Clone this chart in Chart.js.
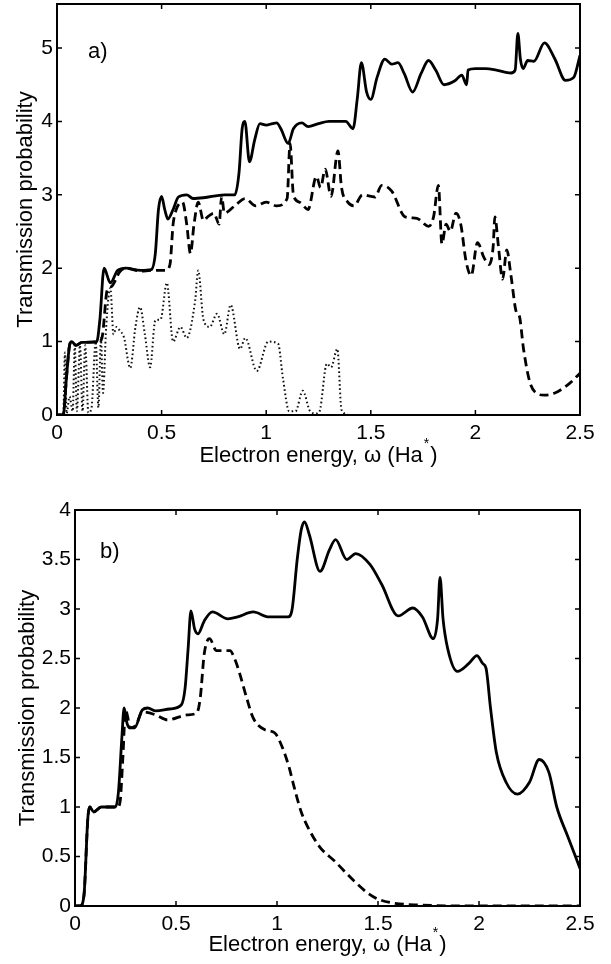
<!DOCTYPE html>
<html>
<head>
<meta charset="utf-8">
<script src="https://cdn.jsdelivr.net/npm/chart.js@4/dist/chart.umd.min.js"></script>
<style>
  html, body { margin: 0; padding: 0; background: #fff; }
  #wrap { position: relative; width: 611px; height: 964px; }
  canvas { position: absolute; left: 0; }
  #chartA { top: 0; }
  #chartB { top: 482px; }
</style>
</head>
<body>
<div id="wrap">
  <canvas id="chartA" width="611" height="482"></canvas>
  <canvas id="chartB" width="611" height="482"></canvas>
</div>
<script>
const FONT = "'Liberation Sans', Arial, sans-serif";

// panel a) — energy (Ha*) and transmission
const aSolidX = [0, 0.03, 0.045, 0.06, 0.07, 0.09, 0.12, 0.19, 0.205, 0.225, 0.255, 0.29, 0.33, 0.4, 0.45, 0.47, 0.485, 0.5, 0.515, 0.53, 0.555, 0.58, 0.62, 0.65, 0.7, 0.8, 0.85, 0.87, 0.885, 0.898, 0.92, 0.945, 0.97, 1.0, 1.03, 1.05, 1.07, 1.105, 1.13, 1.17, 1.2, 1.25, 1.3, 1.38, 1.415, 1.435, 1.455, 1.48, 1.5, 1.53, 1.567, 1.6, 1.63, 1.66, 1.7, 1.74, 1.776, 1.81, 1.85, 1.9, 1.935, 1.958, 1.965, 2.0, 2.05, 2.1, 2.17, 2.19, 2.203, 2.215, 2.228, 2.25, 2.28, 2.33, 2.38, 2.43, 2.47, 2.5];
const aSolidY = [0, 0, 0.5, 0.95, 1.0, 0.95, 0.99, 1.0, 1.3, 2.0, 1.8, 1.97, 2.0, 1.97, 1.98, 2.2, 2.8, 2.98, 2.8, 2.67, 2.8, 2.97, 3.0, 2.95, 2.96, 3.0, 3.0, 3.3, 3.9, 4.0, 3.45, 3.75, 3.97, 3.95, 3.97, 3.98, 3.9, 3.7, 3.9, 3.98, 3.93, 3.97, 4.0, 4.0, 3.9, 4.3, 4.8, 4.4, 4.3, 4.6, 4.85, 4.78, 4.8, 4.65, 4.4, 4.65, 4.83, 4.7, 4.5, 4.55, 4.63, 4.5, 4.7, 4.72, 4.72, 4.7, 4.66, 4.7, 5.2, 4.85, 4.72, 4.83, 4.82, 5.07, 4.85, 4.56, 4.6, 4.9];

const aDashX = [0, 0.03, 0.045, 0.06, 0.07, 0.09, 0.12, 0.2, 0.215, 0.24, 0.26, 0.3, 0.33, 0.4, 0.45, 0.52, 0.54, 0.555, 0.57, 0.6, 0.62, 0.638, 0.655, 0.675, 0.7, 0.72, 0.75, 0.775, 0.787, 0.8, 0.85, 0.9, 0.95, 1.0, 1.05, 1.1, 1.114, 1.13, 1.16, 1.2, 1.24, 1.26, 1.282, 1.31, 1.343, 1.36, 1.39, 1.42, 1.46, 1.52, 1.552, 1.6, 1.664, 1.72, 1.776, 1.8, 1.823, 1.84, 1.86, 1.88, 1.907, 1.93, 1.955, 1.98, 2.01, 2.04, 2.065, 2.085, 2.093, 2.11, 2.13, 2.15, 2.17, 2.196, 2.21, 2.23, 2.26, 2.29, 2.33, 2.38, 2.45, 2.5];
const aDashY = [0, 0, 0.5, 0.95, 1.0, 0.95, 0.99, 1.0, 1.05, 1.7, 1.75, 1.95, 2.0, 1.96, 1.97, 1.97, 2.05, 2.6, 2.8, 2.9, 2.6, 2.2, 2.6, 2.9, 2.65, 2.7, 2.75, 2.6, 2.98, 2.75, 2.85, 2.95, 2.85, 2.9, 2.85, 2.95, 3.7, 3.0, 2.9, 2.8, 3.25, 3.1, 3.35, 2.98, 3.6, 3.1, 2.9, 2.85, 3.0, 2.97, 3.13, 3.05, 2.7, 2.68, 2.57, 2.7, 3.13, 2.33, 2.6, 2.5, 2.75, 2.6, 2.1, 1.9, 2.35, 2.15, 2.05, 2.3, 2.7, 2.3, 1.85, 2.25, 1.9, 1.4, 1.35, 0.9, 0.45, 0.3, 0.27, 0.3, 0.43, 0.57];

const aDotX = [0, 0.03, 0.038, 0.046, 0.06, 0.075, 0.085, 0.095, 0.11, 0.122, 0.135, 0.15, 0.165, 0.185, 0.198, 0.21, 0.22, 0.235, 0.255, 0.27, 0.285, 0.3, 0.32, 0.35, 0.375, 0.397, 0.42, 0.445, 0.47, 0.495, 0.525, 0.555, 0.59, 0.62, 0.66, 0.675, 0.7, 0.73, 0.765, 0.8, 0.83, 0.875, 0.9, 0.955, 1.01, 1.057, 1.08, 1.11, 1.14, 1.175, 1.21, 1.24, 1.255, 1.29, 1.31, 1.34, 1.36, 1.4, 2.5];
const aDotY = [0, 0, 0.85, 0.02, 0.25, 0.05, 0.95, 0.05, 0.95, 0.05, 0.95, 0.03, 0.1, 1.0, 0.1, 1.05, 0.3, 1.2, 1.73, 1.1, 1.2, 1.15, 1.06, 0.64, 1.2, 1.47, 1.1, 0.65, 1.29, 1.3, 1.8, 1.0, 1.2, 1.05, 1.55, 1.97, 1.3, 1.2, 1.38, 1.1, 1.5, 0.9, 1.05, 0.6, 1.0, 0.97, 0.5, 0.05, 0.05, 0.33, 0.05, 0.02, 0.05, 0.7, 0.65, 0.9, 0.07, 0, 0];

// panel b)
const bSolidX = [0, 0.025, 0.044, 0.064, 0.073, 0.092, 0.13, 0.2, 0.215, 0.232, 0.243, 0.257, 0.27, 0.295, 0.333, 0.36, 0.4, 0.468, 0.526, 0.545, 0.56, 0.574, 0.592, 0.609, 0.64, 0.68, 0.757, 0.805, 0.882, 0.96, 1.055, 1.075, 1.1, 1.12, 1.136, 1.16, 1.213, 1.26, 1.29, 1.345, 1.39, 1.46, 1.518, 1.6, 1.672, 1.72, 1.774, 1.795, 1.807, 1.822, 1.845, 1.893, 1.95, 1.99, 2.018, 2.035, 2.057, 2.086, 2.134, 2.19, 2.25, 2.298, 2.346, 2.385, 2.44, 2.5];
const bSolidY = [0, 0, 0.1, 0.9, 1.0, 0.95, 1.0, 1.0, 1.15, 1.7, 2.0, 1.85, 1.8, 1.8, 1.98, 2.0, 1.97, 1.99, 2.03, 2.2, 2.6, 2.98, 2.8, 2.75, 2.88, 2.97, 2.9, 2.92, 2.97, 2.92, 2.92, 3.0, 3.5, 3.8, 3.88, 3.75, 3.38, 3.6, 3.7, 3.5, 3.56, 3.45, 3.25, 2.93, 3.01, 2.92, 2.7, 2.9, 3.32, 2.9, 2.6, 2.37, 2.45, 2.53, 2.45, 2.4, 2.0, 1.55, 1.25, 1.13, 1.25, 1.48, 1.35, 1.0, 0.7, 0.38];

const bDashX = [0, 0.025, 0.044, 0.064, 0.073, 0.092, 0.13, 0.21, 0.223, 0.237, 0.25, 0.262, 0.27, 0.3, 0.333, 0.4, 0.458, 0.555, 0.603, 0.62, 0.64, 0.666, 0.7, 0.767, 0.79, 0.815, 0.85, 0.882, 0.94, 0.988, 1.027, 1.06, 1.085, 1.12, 1.152, 1.21, 1.287, 1.383, 1.45, 1.5, 1.575, 1.7, 2.0, 2.5];
const bDashY = [0, 0, 0.1, 0.9, 1.0, 0.95, 1.0, 1.0, 1.05, 1.5, 1.98, 1.9, 1.8, 1.82, 1.96, 1.93, 1.88, 1.93, 1.95, 2.1, 2.55, 2.7, 2.58, 2.58, 2.5, 2.35, 2.1, 1.9, 1.78, 1.75, 1.6, 1.4, 1.2, 0.95, 0.8, 0.6, 0.45, 0.25, 0.13, 0.07, 0.03, 0.01, 0, 0];

const xTicks = [0, 0.5, 1, 1.5, 2, 2.5];
const aYTicks = [0, 1, 2, 3, 4, 5];
const bYTicks = [0, 0.5, 1, 1.5, 2, 2.5, 3, 3.5, 4];

const pts = (xs, ys) => xs.map((x, i) => ({ x, y: ys[i] }));

const solid = (xs, ys) => ({ data: pts(xs, ys), borderColor: "#000", borderWidth: 2.8 });
const dashed = (xs, ys) => ({ data: pts(xs, ys), borderColor: "#000", borderWidth: 2.8, borderDash: [9, 5] });
const dotted = (xs, ys) => ({ data: pts(xs, ys), borderColor: "#111", borderWidth: 2, borderDash: [1.6, 2.6] });

// box, inward ticks, panel letter and x title with superscript star
const frame = {
  id: "frame",
  afterDatasetsDraw(chart, args, opts) {
    const { ctx, chartArea: a, scales: { x, y } } = chart;
    ctx.save();
    ctx.strokeStyle = "#000";
    ctx.lineWidth = 2;
    ctx.strokeRect(a.left, a.top, a.right - a.left, a.bottom - a.top);
    ctx.lineWidth = 1.5;
    ctx.beginPath();
    x.ticks.forEach((t) => {
      const px = x.getPixelForValue(t.value);
      ctx.moveTo(px, a.bottom); ctx.lineTo(px, a.bottom - 5);
      ctx.moveTo(px, a.top); ctx.lineTo(px, a.top + 5);
    });
    y.ticks.forEach((t) => {
      const py = y.getPixelForValue(t.value);
      ctx.moveTo(a.left, py); ctx.lineTo(a.left + 5, py);
      ctx.moveTo(a.right, py); ctx.lineTo(a.right - 5, py);
    });
    ctx.stroke();

    ctx.fillStyle = "#000";
    ctx.textBaseline = "middle";
    ctx.font = "22px " + FONT;
    ctx.fillText(opts.label, x.getPixelForValue(opts.at[0]), y.getPixelForValue(opts.at[1]));

    // x axis title
    const main = "Electron energy, \u03c9 (Ha", tail = ")", star = "*";
    const wMain = ctx.measureText(main).width, wTail = ctx.measureText(tail).width;
    ctx.font = "14px " + FONT;
    const wStar = ctx.measureText(star).width;
    const total = wMain + wStar + 2 + wTail;
    const tx = (a.left + a.right) / 2 - total / 2;
    ctx.font = "22px " + FONT;
    ctx.fillText(main, tx, opts.titleY);
    ctx.font = "14px " + FONT;
    ctx.fillText(star, tx + wMain + 1, opts.titleY - 12);
    ctx.font = "22px " + FONT;
    ctx.fillText(tail, tx + wMain + wStar + 2, opts.titleY);
    ctx.restore();
  },
};

function makeChart(id, datasets, o) {
  return new Chart(document.getElementById(id), {
    type: "line",
    data: { datasets },
    options: {
      responsive: false,
      animation: false,
      events: [],
      layout: { autoPadding: false, padding: { top: o.top, right: 31, left: 0, bottom: 0 } },
      elements: {
        point: { radius: 0 },
        line: { tension: 0.4, cubicInterpolationMode: "monotone", fill: false },
      },
      plugins: {
        legend: { display: false },
        tooltip: { enabled: false },
        frame: { label: o.label, at: o.labelAt, titleY: o.titleY },
      },
      scales: {
        x: {
          type: "linear",
          min: 0,
          max: 2.5,
          afterFit: (s) => {
            s.height = o.xHeight;
            s.paddingLeft = 0;
            s.paddingRight = 0;
          },
          afterBuildTicks: (s) => { s.ticks = xTicks.map((v) => ({ value: v })); },
          grid: { display: false, drawTicks: false },
          border: { display: false },
          ticks: {
            padding: 6,
            color: "#000",
            font: { family: FONT, size: 21 },
            maxRotation: 0,
            callback: (v) => String(v),
          },
        },
        y: {
          type: "linear",
          min: 0,
          max: o.yMax,
          afterFit: (s) => {
            s.width = o.yWidth;
            s.paddingTop = 0;
            s.paddingBottom = 0;
          },
          afterBuildTicks: (s) => { s.ticks = o.yTicks.map((v) => ({ value: v })); },
          grid: { display: false, drawTicks: false },
          border: { display: false },
          ticks: {
            padding: 4,
            color: "#000",
            font: { family: FONT, size: 21 },
            callback: (v) => String(v),
          },
          title: {
            display: true,
            text: "Transmission probability",
            color: "#000",
            font: { family: FONT, size: 22 },
            padding: { top: o.yTitlePad, bottom: 0 },
          },
        },
      },
    },
    plugins: [frame],
  });
}

makeChart("chartA", [solid(aSolidX, aSolidY), dashed(aDashX, aDashY), dotted(aDotX, aDotY)], {
  top: 4, xHeight: 67, yWidth: 57, yMax: 5.6, yTicks: aYTicks, yTitlePad: 13,
  label: "a)", labelAt: [0.148, 4.95], titleY: 456,
});

makeChart("chartB", [solid(bSolidX, bSolidY), dashed(bDashX, bDashY)], {
  top: 28, xHeight: 58, yWidth: 75, yMax: 4, yTicks: bYTicks, yTitlePad: 15,
  label: "b)", labelAt: [0.124, 3.58], titleY: 463,
});
</script>
</body>
</html>
